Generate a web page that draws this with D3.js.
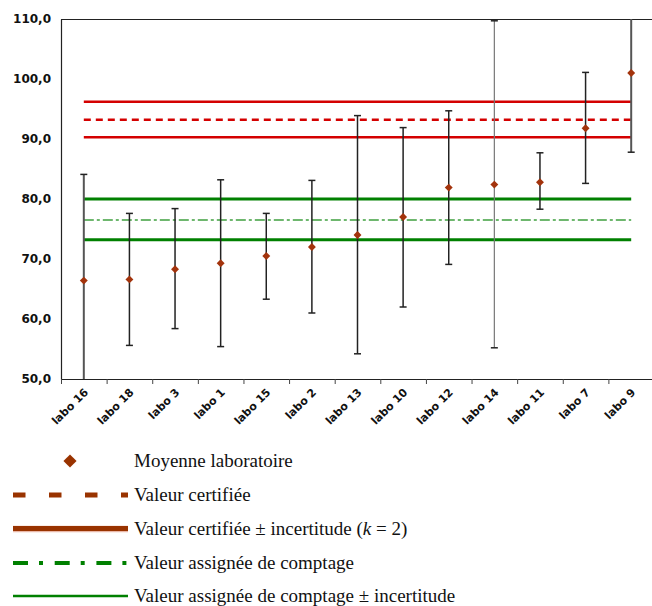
<!DOCTYPE html>
<html>
<head>
<meta charset="utf-8">
<script src="https://cdn.jsdelivr.net/npm/d3@7"></script>
<style>
  body { margin: 0; background: #fff; }
  svg { display: block; }
</style>
</head>
<body>
<svg id="chart" width="652" height="606"></svg>
<script>
// data
const labs = ["labo 16", "labo 18", "labo 3", "labo 1", "labo 15", "labo 2", "labo 13",
  "labo 10", "labo 12", "labo 14", "labo 11", "labo 7", "labo 9"];
const means = [66.4, 66.6, 68.3, 69.3, 70.5, 72.0, 74.0, 77.0, 81.9, 82.4, 82.8, 91.8, 101.0];
const lows = [48.0, 55.6, 58.4, 55.4, 63.3, 61.0, 54.2, 62.0, 69.1, 55.2, 78.3, 82.6, 87.8];
const highs = [84.1, 77.6, 78.4, 83.2, 77.6, 83.1, 93.9, 91.9, 94.7, 109.7, 87.7, 101.1, 114.0];
const certified = 93.2;
const certifiedBounds = [90.3, 96.2];
const counting = 76.5;
const countingBounds = [73.2, 80.0];
const yTicks = [50, 60, 70, 80, 90, 100, 110];
const legendLabels = [
  "Moyenne laboratoire",
  "Valeur certifiée",
  "Valeur certifiée ± incertitude (k = 2)",
  "Valeur assignée de comptage",
  "Valeur assignée de comptage ± incertitude"
];

const svg = d3.select("#chart");
const m = { left: 61, right: 654, top: 19, bottom: 379 };

const x = d3.scaleBand().domain(labs).range([m.left, m.right]);
const y = d3.scaleLinear().domain([50, 110]).range([m.bottom, m.top]);

const fmt = (v) => d3.format(".1f")(v).replace(".", ",");

// clip for marks inside the plot area
svg.append("clipPath").attr("id", "plot")
  .append("rect").attr("x", m.left).attr("y", m.top).attr("width", m.right - m.left).attr("height", m.bottom - m.top);

// top border
svg.append("line")
  .attr("x1", m.left).attr("x2", 652).attr("y1", m.top + 0.5).attr("y2", m.top + 0.5)
  .attr("stroke", "#222").attr("stroke-width", 1);

// y axis
const yAxis = svg.append("g")
  .attr("transform", `translate(${m.left},0)`)
  .call(d3.axisLeft(y).tickValues(yTicks).tickSize(0).tickPadding(10).tickFormat(fmt));
yAxis.select(".domain").attr("stroke", "#222").attr("stroke-width", 1.2);
yAxis.selectAll("text")
  .attr("font-family", "DejaVu Sans, Verdana, sans-serif")
  .attr("font-weight", "bold").attr("font-size", 12).attr("fill", "#111");

// x axis
const xAxis = svg.append("g")
  .attr("transform", `translate(0,${m.bottom})`)
  .call(d3.axisBottom(x).tickSizeOuter(0).tickSize(0).tickFormat(""));
xAxis.select(".domain").attr("stroke", "#222").attr("stroke-width", 1.2);
xAxis.selectAll(".tick").remove();

// x tick marks at band edges
svg.append("g").selectAll("line")
  .data(labs)
  .join("line")
  .attr("x1", (d) => x(d) + 0.5).attr("x2", (d) => x(d) + 0.5)
  .attr("y1", m.bottom).attr("y2", m.bottom + 5)
  .attr("stroke", "#444").attr("stroke-width", 1);

// x labels
svg.append("g").selectAll("text")
  .data(labs)
  .join("text")
  .attr("transform", (d) => `translate(${x(d) + x.bandwidth() / 2 + 5},${m.bottom + 14}) rotate(-45)`)
  .attr("text-anchor", "end")
  .attr("font-family", "DejaVu Sans, Verdana, sans-serif")
  .attr("font-weight", "bold").attr("font-size", 11).attr("fill", "#111")
  .text((d) => d);

const plot = svg.append("g").attr("clip-path", "url(#plot)");
const x0 = x(labs[0]) + x.bandwidth() / 2;
const x1 = x(labs[labs.length - 1]) + x.bandwidth() / 2;

// reference lines
const refs = [
  { v: certifiedBounds[1], color: "#d40000", w: 2.5, dash: null },
  { v: certified, color: "#d40000", w: 2.5, dash: "7,5" },
  { v: certifiedBounds[0], color: "#d40000", w: 2.5, dash: null },
  { v: countingBounds[1], color: "#008000", w: 3, dash: null },
  { v: counting, color: "#3fa03f", w: 1.6, dash: "10,3,3,3" },
  { v: countingBounds[0], color: "#008000", w: 3, dash: null }
];
plot.append("g").selectAll("line")
  .data(refs)
  .join("line")
  .attr("x1", x0).attr("x2", x1)
  .attr("y1", (d) => y(d.v)).attr("y2", (d) => y(d.v))
  .attr("stroke", (d) => d.color)
  .attr("stroke-width", (d) => d.w)
  .attr("stroke-dasharray", (d) => d.dash);

// error bars
const pts = labs.map((l, i) => ({ lab: l, m: means[i], lo: lows[i], hi: highs[i] }));
const bars = plot.append("g").selectAll("g")
  .data(pts)
  .join("g")
  .attr("transform", (d) => `translate(${x(d.lab) + x.bandwidth() / 2},0)`);
bars.append("line")
  .attr("y1", (d) => y(d.lo)).attr("y2", (d) => y(d.hi))
  .attr("stroke", (d) => d.lab == "labo 14" ? "#777" : (d.lab == "labo 16" || d.lab == "labo 9") ? "#555" : "#222")
  .attr("stroke-width", (d) => d.lab == "labo 14" ? 1.2 : (d.lab == "labo 16" || d.lab == "labo 9") ? 2 : 1.5);
bars.selectAll(".cap")
  .data((d) => [d.lo, d.hi].filter((v) => v > 50 && v < 110))
  .join("line")
  .attr("x1", -3.5).attr("x2", 3.5)
  .attr("y1", (v) => y(v)).attr("y2", (v) => y(v))
  .attr("stroke", "#222").attr("stroke-width", 1.5);

// means
const diamond = d3.symbol().type(d3.symbolDiamond2).size(40);
plot.append("g").selectAll("path")
  .data(pts)
  .join("path")
  .attr("transform", (d) => `translate(${x(d.lab) + x.bandwidth() / 2},${y(d.m)})`)
  .attr("d", diamond)
  .attr("fill", "#a3330c");

// legend
const legend = svg.append("g");
const rowY = [461, 495, 529, 563, 596];
const lx0 = 13, lx1 = 128;

legend.append("path")
  .attr("transform", `translate(70,${rowY[0]})`)
  .attr("d", d3.symbol().type(d3.symbolDiamond2).size(110))
  .attr("fill", "#993300");

legend.append("line")
  .attr("x1", lx0).attr("x2", lx1).attr("y1", rowY[1]).attr("y2", rowY[1])
  .attr("stroke", "#993300").attr("stroke-width", 5).attr("stroke-dasharray", "12.5,23.5");

legend.append("line")
  .attr("x1", lx0).attr("x2", lx1).attr("y1", rowY[2]).attr("y2", rowY[2])
  .attr("stroke", "#e9b8a8").attr("stroke-width", 6.5);
legend.append("line")
  .attr("x1", lx0).attr("x2", lx1).attr("y1", rowY[2] - 0.5).attr("y2", rowY[2] - 0.5)
  .attr("stroke", "#993300").attr("stroke-width", 5);

legend.append("line")
  .attr("x1", lx0).attr("x2", lx1).attr("y1", rowY[3]).attr("y2", rowY[3])
  .attr("stroke", "#008000").attr("stroke-width", 4).attr("stroke-dasharray", "15,11,4,11.7");

legend.append("line")
  .attr("x1", lx0).attr("x2", lx1).attr("y1", rowY[4]).attr("y2", rowY[4])
  .attr("stroke", "#008000").attr("stroke-width", 2.5);

const lt = legend.selectAll("text")
  .data(legendLabels)
  .join("text")
  .attr("x", 134)
  .attr("y", (d, i) => rowY[i] + 5.5)
  .attr("font-family", "Liberation Serif, Times New Roman, serif")
  .attr("font-size", 19).attr("fill", "#111");
lt.each(function (d, i) {
  const t = d3.select(this);
  if (i == 2) {
    t.append("tspan").text("Valeur certifiée ± incertitude (");
    t.append("tspan").attr("font-style", "italic").text("k");
    t.append("tspan").text(" = 2)");
  } else {
    t.text(d);
  }
});
</script>
</body>
</html>
